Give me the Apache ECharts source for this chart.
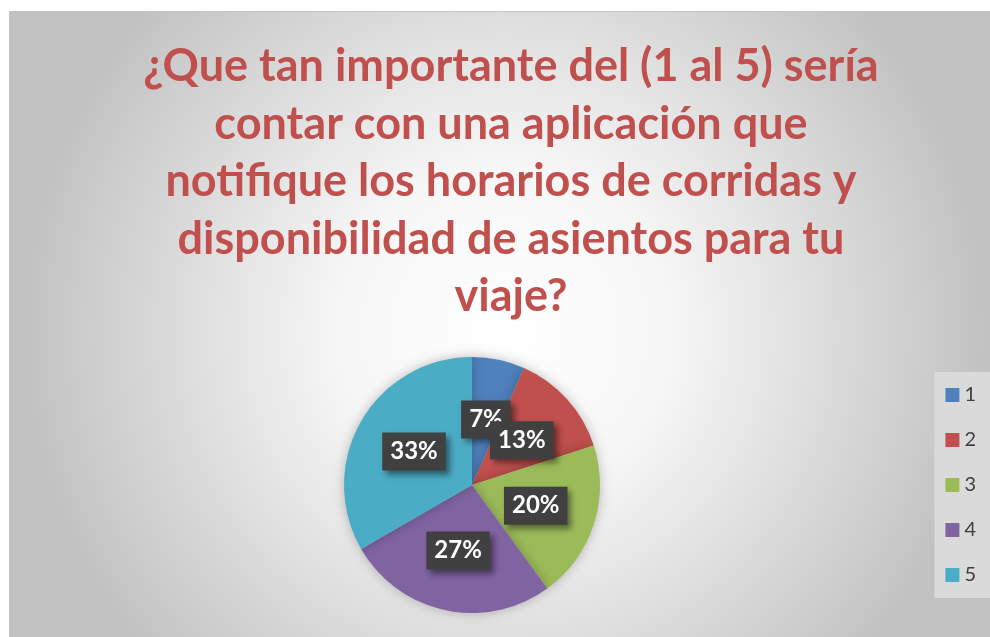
<!DOCTYPE html>
<html><head><meta charset="utf-8">
<script src="https://cdn.jsdelivr.net/npm/echarts@6/dist/echarts.min.js"></script>
<style>html,body{margin:0;padding:0;background:#fff;}#c{width:990px;height:637px;}</style>
</head><body><div id="c"></div>
<script>
const titleLines = ['¿Que tan importante del (1 al 5) sería','contar con una aplicación que','notifique los horarios de corridas y','disponibilidad de asientos para tu','viaje?'];
const categories = ['1','2','3','4','5'];
const values = [1,2,3,4,5];
const colors = ['#4F81BD','#C0504D','#9BBB59','#8064A2','#4BACC6'];

const chart = echarts.init(document.getElementById('c'));
chart.setOption({
  backgroundColor: '#ffffff',
  animation: false,
  color: colors,
  graphic: [{
    type: 'rect', z: -10, silent: true,
    shape: {x: 9.5, y: 11.5, width: 990, height: 640},
    style: {
      fill: {type: 'radial', x: 0.5, y: 0.5, r: 0.75,
        colorStops: [{offset: 0, color: '#ffffff'}, {offset: 0.35, color: '#f6f6f6'}, {offset: 1, color: '#c2c2c2'}]},
      stroke: '#c4c4c4', lineWidth: 1
    }
  }],
  title: {
    text: titleLines.join('\n'),
    left: 506, top: 33, textAlign: 'center',
    textStyle: {color: '#C0504D', fontFamily: 'Lato', fontWeight: 'bold', fontSize: 45, lineHeight: 57.5}
  },
  legend: {
    orient: 'vertical', right: 0, top: 372,
    data: categories,
    icon: 'rect', itemWidth: 14, itemHeight: 14, itemGap: 25,
    backgroundColor: '#dadada',
    padding: [13, 14, 13, 11],
    textStyle: {color: '#404040', fontSize: 20, fontFamily: 'Lato'}
  },
  series: [{
    type: 'pie',
    center: [472, 485], radius: 128,
    startAngle: 90, clockwise: true,
    avoidLabelOverlap: false,
    labelLayout: {hideOverlap: false},
    data: categories.map((c, i) => ({name: c, value: values[i]})),
    itemStyle: {borderWidth: 0, shadowBlur: 12, shadowColor: 'rgba(0,0,0,0.25)'},
    label: {
      position: 'inside',
      formatter: p => Math.round(p.percent) + '%',
      color: '#ffffff', fontFamily: 'Lato', fontWeight: 'bold', fontSize: 24,
      backgroundColor: '#404040', padding: [8, 8, 6, 8],
      shadowColor: 'rgba(0,0,0,0.45)', shadowBlur: 6, shadowOffsetX: 4, shadowOffsetY: 4
    },
    labelLine: {show: false},
    emphasis: {disabled: true}
  }]
});
</script></body></html>
